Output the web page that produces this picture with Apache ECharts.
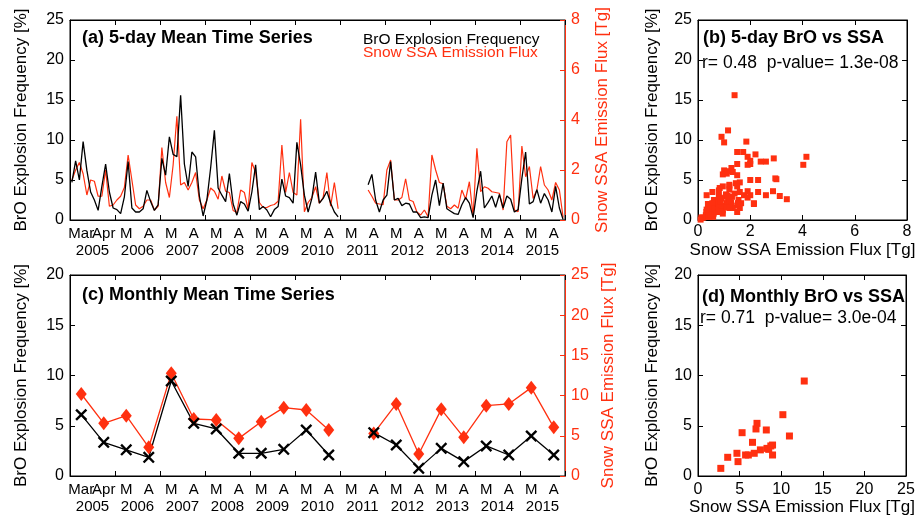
<!DOCTYPE html>
<html>
<head>
<meta charset="utf-8">
<script src="https://cdn.jsdelivr.net/npm/echarts@6/dist/echarts.min.js"></script>
<style>
html, body { margin: 0; padding: 0; background: #fff; }
#chart { width: 924px; height: 522px; }
</style>
</head>
<body>
<div id="chart"></div>
<script>
// 5-day means: 6 pentads in March + 6 in April, each year 2005-2015
const brO5day = [
  4.7, 7.4, 5.0, 9.8, 6.2, 3.5,    2.5, 1.2, 4.2, 7.0, 3.5, 1.5,   // 2005
  1.3, 0.8, 2.9, 7.3, 1.5, 1.0,    1.0, 1.4, 3.7, 2.3, 1.2, 1.9,   // 2006
  7.7, 5.6, 10.4, 8.2, 7.9, 15.6,  7.0, 4.2, 8.5, 7.9, 3.0, 0.5,   // 2007
  2.5, 6.5, 11.2, 4.0, 3.1, 2.3,   5.8, 2.0, 0.6, 2.3, 2.0, 1.1,   // 2008
  3.5, 6.9, 1.3, 1.7, 1.25, 0.4,   1.3, 1.7, 5.1, 3.0, 2.8, 2.1,   // 2009
  9.7, 6.9, 3.1, 1.0, 2.7, 6.0,    2.1, 2.7, 3.6, 2.1, 1.0, 0.4,   // 2010
  null, null, null, null, null, null,  null, 4.4, 5.7, 2.5, 1.0, 2.5, // 2011
  3.1, 7.3, 2.5, 2.7, 1.8, 2.1,    2.0, 1.0, 1.0, 0.3, 0.4, 0.3,   // 2012
  3.1, 5.0, 1.8, 4.6, 1.4, 1.1,    0.8, 0.7, 1.9, 2.8, 2.1, 0.3,   // 2013
  3.6, 6.1, 1.5, 2.2, 3.0, 1.6,    3.2, 1.5, 3.0, 2.6, 1.0, 1.3,   // 2014
  5.2, 8.5, 2.0, 2.3, 3.8, 2.1,    3.3, 2.5, 1.0, 4.2, 1.5, 0.05   // 2015
];
const ssa5day = [
  1.6, 2.0, 2.3, 1.85, 1.0, 1.6,   1.55, 0.95, 0.95, 2.0, 0.55, 0.6,  // 2005
  0.8, 0.95, 1.3, 2.6, 1.6, 0.6,   0.45, 0.55, 0.8, 0.8, 0.4, 0.55,   // 2006
  2.9, 1.5, 0.9, 2.2, 4.15, 1.4,   1.5, 1.2, 1.5, 1.9, 0.8, 0.45,     // 2007
  0.8, 1.28, 1.15, 0.83, 1.76, 1.15,  1.1, 0.38, 0.3, 1.2, 1.1, 0.42, // 2008
  2.3, 1.9, 0.7, 0.5, 0.5, 0.58,   0.62, 0.75, 3.0, 1.1, 1.9, 1.1,    // 2009
  1.0, 4.03, 0.33, 0.7, 0.9, 1.33,  0.67, 0.9, 1.9, 0.55, 1.5, 0.45,  // 2010
  null, null, null, null, null, null,  null, 1.2, 0.95, 0.67, 0.64, 0.61, // 2011
  2.0, 2.4, 0.8, 0.8, 0.9, 1.65,   0.8, 0.74, 0.32, 0.2, 0.4, 0.13,   // 2012
  2.6, 2.0, 1.5, 1.45, 0.55, 0.45,  0.6, 0.47, 1.2, 0.83, 1.53, 0.16, // 2013
  2.87, 1.13, 1.33, 1.27, 1.13, 1.1,  1.07, 0.4, 3.13, 3.4, 0.4, 0.33, // 2014
  2.96, 1.73, 2.14, 0.86, 1.2, 2.14,  1.4, 1.2, 0.8, 1.5, 1.2, 0.1    // 2015
];

// monthly means (Mar, Apr of each year)
const monthLabels = ['Mar', 'Apr', 'M', 'A', 'M', 'A', 'M', 'A', 'M', 'A', 'M', 'A',
                     'M', 'A', 'M', 'A', 'M', 'A', 'M', 'A', 'M', 'A'];
const yearLabels = ['2005', '2006', '2007', '2008', '2009', '2010', '2011', '2012', '2013', '2014', '2015'];
const brOMonthly = [6.1, 3.35, 2.6, 1.86, 9.45, 5.24, 4.68, 2.26, 2.26, 2.65, 4.58, 2.09,
                    null, 4.31, 3.08, 0.76, 2.75, 1.43, 2.99, 2.09, 3.98, 2.09];
const ssaMonthly = [10.2, 6.55, 7.5, 3.57, 12.77, 7.09, 6.97, 4.68, 6.76, 8.5, 8.21, 5.72,
                    null, 5.3, 8.96, 2.74, 8.29, 4.81, 8.75, 8.96, 10.99, 6.05];

const RED = '#ff3010';
const FONT = '"Liberation Sans", Arial, Helvetica, sans-serif';
const X_MARK = 'path://M0,1.4L1.4,0L5,3.6L8.6,0L10,1.4L6.4,5L10,8.6L8.6,10L5,6.4L1.4,10L0,8.6L3.6,5Z';

const pentadCats = brO5day.map((v, i) => i);
const pairs5day = brO5day.map((v, i) => [ssa5day[i], v]).filter(p => p[0] != null && p[1] != null);
const pairsMonthly = brOMonthly.map((v, i) => [ssaMonthly[i], v]).filter(p => p[0] != null && p[1] != null);

const chart = echarts.init(document.getElementById('chart'), null, { renderer: 'canvas' });

const lbl = { color: '#000', fontSize: 16, fontFamily: FONT };
const blackLine = { show: true, lineStyle: { color: '#000', width: 1 } };
const tickIn = { show: true, inside: true, length: 5, lineStyle: { color: '#000', width: 1 } };
const nameStyle = { color: '#000', fontSize: 17, fontFamily: FONT };

function catTicks(grid, data, pos, interval) {
    return {
        type: 'category', gridIndex: grid, data: data, position: pos, boundaryGap: true,
        axisLine: blackLine,
        axisTick: Object.assign({}, tickIn, { interval: interval }),
        axisLabel: { show: false }, splitLine: { show: false }
    };
}
function catLabels(grid, data, offset, margin) {
    return {
        type: 'category', gridIndex: grid, data: data, position: 'bottom', offset: offset,
        boundaryGap: true, axisLine: { show: false }, axisTick: { show: false },
        axisLabel: Object.assign({}, lbl, { fontSize: 15, interval: 0, margin: margin }),
        splitLine: { show: false }
    };
}
function valAxis(grid, pos, min, max, step, showLabel, color, name, gap, margin) {
    const c = color || '#000';
    return {
        type: 'value', gridIndex: grid, position: pos, min: min, max: max, interval: step,
        axisLine: { show: true, onZero: false, lineStyle: { color: c, width: 1 } },
        axisTick: { show: true, inside: true, length: 5, lineStyle: { color: c } },
        axisLabel: showLabel ? Object.assign({}, lbl, { color: c, margin: margin == null ? 6 : margin }) : { show: false },
        splitLine: { show: false },
        name: name || '', nameLocation: 'middle', nameGap: gap || 0,
        nameRotate: (pos === 'left' || pos === 'right') ? 90 : 0,
        nameTextStyle: Object.assign({}, nameStyle, { color: c })
    };
}

function txt(x, y, s, font, fill) {
    return { type: 'text', x: x, y: y, style: { text: s, font: font, fill: fill || '#000', verticalAlign: 'middle' } };
}

chart.setOption({
    animation: false,
    backgroundColor: '#fff',
    grid: [
        { left: 70, top: 20, width: 495, height: 200, show: true, borderColor: '#000', borderWidth: 1 },
        { left: 698, top: 20, width: 209, height: 200, show: true, borderColor: '#000', borderWidth: 1 },
        { left: 70, top: 275, width: 495, height: 201, show: true, borderColor: '#000', borderWidth: 1 },
        { left: 698, top: 275, width: 208, height: 201, show: true, borderColor: '#000', borderWidth: 1 }
    ],
    xAxis: [
        catTicks(0, pentadCats, 'bottom', 11),                    // 0
        catLabels(0, monthLabels, 0, 6),                          // 1
        catLabels(0, yearLabels, 17, 6),                          // 2
        catTicks(0, pentadCats, 'top', 11),                       // 3
        valAxis(1, 'bottom', 0, 8, 2, true, null, 'Snow SSA Emission Flux [Tg]', 22, 4), // 4
        valAxis(1, 'top', 0, 8, 2, false),                        // 5
        catTicks(2, monthLabels, 'bottom', 1),                    // 6
        catLabels(2, monthLabels, 0, 6),                          // 7
        catLabels(2, yearLabels, 17, 6),                          // 8
        catTicks(2, monthLabels, 'top', 1),                       // 9
        valAxis(3, 'bottom', 0, 25, 5, true, null, 'Snow SSA Emission Flux [Tg]', 21, 6), // 10
        valAxis(3, 'top', 0, 25, 5, false)                        // 11
    ],
    yAxis: [
        valAxis(0, 'left', 0, 25, 5, true, null, 'BrO Explosion Frequency [%]', 40),   // 0
        valAxis(0, 'right', 0, 8, 2, true, RED, 'Snow SSA Emission Flux [Tg]', 29),  // 1
        valAxis(1, 'left', 0, 25, 5, true, null, 'BrO Explosion Frequency [%]', 37),   // 2
        valAxis(1, 'right', 0, 25, 5, false),                                          // 3
        valAxis(2, 'left', 0, 20, 5, true, null, 'BrO Explosion Frequency [%]', 40),   // 4
        valAxis(2, 'right', 0, 25, 5, true, RED, 'Snow SSA Emission Flux [Tg]', 29), // 5
        valAxis(3, 'left', 0, 20, 5, true, null, 'BrO Explosion Frequency [%]', 37),   // 6
        valAxis(3, 'right', 0, 20, 5, false)                                           // 7
    ],
    series: [
        { type: 'line', name: 'Snow SSA Emission Flux', xAxisIndex: 0, yAxisIndex: 1, data: ssa5day,
          symbol: 'none', connectNulls: false, lineStyle: { color: RED, width: 1.2 } },
        { type: 'line', name: 'BrO Explosion Frequency', xAxisIndex: 0, yAxisIndex: 0, data: brO5day,
          symbol: 'none', connectNulls: false, lineStyle: { color: '#000', width: 1.3 } },
        { type: 'scatter', xAxisIndex: 4, yAxisIndex: 2, data: pairs5day,
          symbol: 'rect', symbolSize: 6, itemStyle: { color: RED, opacity: 1 } },
        { type: 'line', xAxisIndex: 6, yAxisIndex: 5, data: ssaMonthly, connectNulls: false,
          symbol: 'diamond', symbolSize: [11, 14], showAllSymbol: true,
          itemStyle: { color: RED }, lineStyle: { color: RED, width: 1.3 } },
        { type: 'line', xAxisIndex: 6, yAxisIndex: 4, data: brOMonthly, connectNulls: false,
          symbol: X_MARK, symbolSize: 12, showAllSymbol: true,
          itemStyle: { color: '#000' }, lineStyle: { color: '#000', width: 1.3 } },
        { type: 'scatter', xAxisIndex: 10, yAxisIndex: 6, data: pairsMonthly,
          symbol: 'rect', symbolSize: 7, itemStyle: { color: RED, opacity: 1 } }
    ],
    graphic: [
        txt(82, 38, '(a) 5-day Mean Time Series', 'bold 18px ' + FONT),
        txt(363, 40, 'BrO Explosion Frequency', '15.5px ' + FONT),
        txt(363, 53, 'Snow SSA Emission Flux', '15.5px ' + FONT, RED),
        txt(703, 38, '(b) 5-day BrO vs SSA', 'bold 18px ' + FONT),
        txt(702, 63, 'r= 0.48  p-value= 1.3e-08', '17.5px ' + FONT),
        txt(82, 295, '(c) Monthly Mean Time Series', 'bold 18px ' + FONT),
        txt(702, 297, '(d) Monthly BrO vs SSA', 'bold 18px ' + FONT),
        txt(700, 318, 'r= 0.71  p-value= 3.0e-04', '17.5px ' + FONT)
    ]
});

window.addEventListener('resize', () => chart.resize());
</script>
</body>
</html>
